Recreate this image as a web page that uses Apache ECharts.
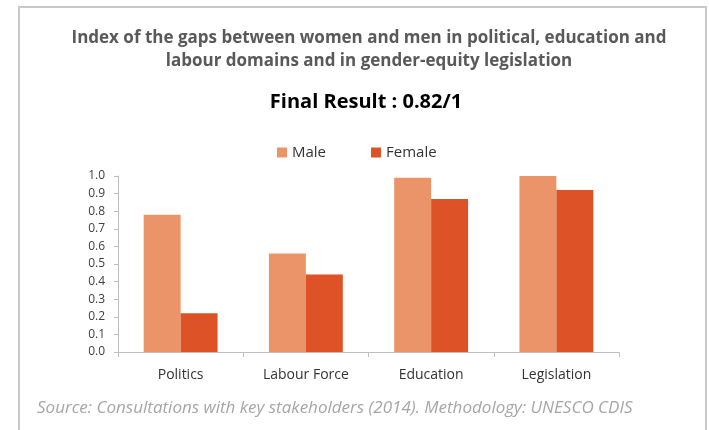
<!DOCTYPE html>
<html>
<head>
<meta charset="utf-8">
<script src="https://cdn.jsdelivr.net/npm/echarts@6/dist/echarts.min.js"></script>
<style>
  html, body { margin: 0; padding: 0; background: #fff; }
  #chart { width: 709px; height: 430px; }
</style>
</head>
<body>
<div id="chart"></div>
<script>
var categories = ['Politics', 'Labour Force', 'Education', 'Legislation'];
var maleValues = [0.78, 0.56, 0.99, 1.0];
var femaleValues = [0.22, 0.44, 0.87, 0.92];
var seriesNames = ['Male', 'Female'];

var titleText = 'Index of the gaps between women and men in political, education and\nlabour domains and in gender-equity legislation';
var subText = 'Final Result : 0.82/1';
var sourceText = 'Source: Consultations with key stakeholders (2014). Methodology: UNESCO CDIS';

var chart = echarts.init(document.getElementById('chart'));

var option = {
  backgroundColor: '#fff',
  textStyle: { fontFamily: 'Open Sans' },
  graphic: [
    {
      type: 'rect',
      shape: { x: 19, y: 7, width: 687, height: 440 },
      style: { fill: 'none', stroke: '#c9c9c9', lineWidth: 2 },
      silent: true
    },
    {
      type: 'text',
      left: 37,
      top: 400,
      style: {
        text: sourceText,
        fill: '#a6a6a6',
        font: 'italic 17px "Open Sans"'
      }
    }
  ],
  title: [
    {
      text: titleText,
      left: 364,
      textAlign: 'center',
      top: 22,
      textStyle: { fontSize: 17, fontWeight: 'bold', color: '#595959', lineHeight: 23, fontFamily: 'Open Sans' }
    },
    {
      text: subText,
      left: 361,
      textAlign: 'center',
      top: 87,
      textStyle: { fontSize: 20, fontWeight: 'bold', color: '#000', fontFamily: 'Open Sans' }
    }
  ],
  legend: {
    data: seriesNames,
    top: 140,
    left: 272,
    itemWidth: 10,
    itemHeight: 10,
    itemGap: 45,
    icon: 'rect',
    textStyle: { fontSize: 15, color: '#333' }
  },
  grid: { left: 118, right: 90, top: 176, bottom: 78 },
  xAxis: {
    type: 'category',
    data: categories,
    axisLine: { lineStyle: { color: '#bfbfbf' } },
    axisTick: { show: true, length: 5, lineStyle: { color: '#bfbfbf' } },
    axisLabel: { fontSize: 14, color: '#333', margin: 16 }
  },
  yAxis: {
    type: 'value',
    min: 0,
    max: 1,
    interval: 0.1,
    splitLine: { show: false },
    axisLine: { show: true, lineStyle: { color: '#bfbfbf' } },
    axisTick: { show: true, length: 4, lineStyle: { color: '#bfbfbf' } },
    axisLabel: {
      fontSize: 12,
      color: '#404040',
      margin: 13,
      formatter: function (v) { return v.toFixed(1); }
    }
  },
  series: [
    {
      name: seriesNames[0],
      type: 'bar',
      data: maleValues,
      barGap: '0%',
      barCategoryGap: '41%',
      itemStyle: { color: '#ec9469' }
    },
    {
      name: seriesNames[1],
      type: 'bar',
      data: femaleValues,
      itemStyle: { color: '#dd5327' }
    }
  ]
};

chart.setOption(option);
window.onresize = chart.resize;
</script>
</body>
</html>
